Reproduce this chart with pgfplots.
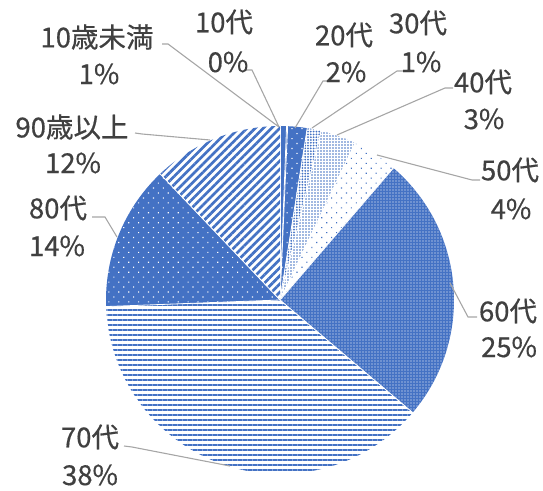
\documentclass[border=0pt]{standalone}
\usepackage{fontspec}
\setmainfont{Noto Sans CJK JP}
\newfontfamily\labfont{Noto Sans CJK JP}[FakeBold=0.5]
\usepackage{pgfplots}
\usepackage{pgfplotstable}
\pgfplotsset{compat=1.18}
\usetikzlibrary{patterns,patterns.meta}
\definecolor{myblue}{RGB}{68,114,196}
\definecolor{txt}{RGB}{64,64,64}
\definecolor{lead}{RGB}{166,166,166}

\pgfplotstableread{
group value
u10 0.6
10s 0.1
20s 1.8
30s 1.3
40s 3.3
50s 4.2
60s 24.9
70s 38.2
80s 13.5
90p 12.1
}\piedata

\tikzset{
 s0/.style={fill=myblue},
 s1/.style={fill=myblue},
 s2/.style={fill=myblue, postaction={pattern={Dots[distance=7pt, angle=45, radius=0.8pt]}, pattern color=white}},
 s3/.style={fill=white, postaction={pattern={Dots[distance=2.8pt, radius=1.0pt]}, pattern color=myblue}},
 s4/.style={fill=white, postaction={pattern={Dots[distance=3pt, radius=0.8pt]}, pattern color=myblue}},
 s5/.style={fill=white, postaction={pattern={Dots[distance=7pt, angle=45, radius=0.8pt]}, pattern color=myblue}},
 s6/.style={fill=myblue, postaction={pattern={Dots[distance=3pt, radius=0.65pt]}, pattern color=white}},
 s7/.style={fill=white, postaction={pattern={Lines[angle=0, distance=5pt, line width=1.3pt]}, pattern color=myblue}},
 s8/.style={fill=myblue, postaction={pattern={Dots[distance=7pt, angle=45, radius=0.8pt]}, pattern color=white}},
 s9/.style={fill=white, postaction={pattern={Lines[angle=45, distance=5.8pt, line width=2.7pt]}, pattern color=myblue}},
}

\begin{document}
\begin{tikzpicture}
\useasboundingbox (0,0) rectangle (543pt,490pt);
\begin{axis}[
  at={(280pt,190pt)}, anchor=origin,
  scale only axis, width=348pt, height=348pt,
  xmin=-1, xmax=1, ymin=-1, ymax=1,
  hide axis, clip=false,
]
\addplot[draw=none] coordinates {(0,0)};
\pgfplotsextra{
  \gdef\cum{0}
  \foreach \i in {0,...,9}{
    \pgfplotstablegetelem{\i}{value}\of\piedata
    \let\v\pgfplotsretval
    \pgfmathsetmacro\sa{90-3.6*\cum}
    \pgfmathsetmacro\sb{90-3.6*(\cum+\v)}
    \fill[s\i] (axis cs:0,0) -- ++(\sa:174pt) arc[start angle=\sa, end angle=\sb, radius=174pt] -- cycle;
    \draw[white, line width=0.8pt] (axis cs:0,0) -- ++(\sa:174pt);
    \pgfmathsetmacro\newcum{\cum+\v}\global\let\cum\newcum
  }
}
\end{axis}
\begin{scope}[x=1pt, y=-1pt, yshift=490pt, font=\labfont\fontsize{27.5}{31}\selectfont, text=txt, inner sep=0pt]
  % leader lines
  \draw[lead, line width=1.1pt] (162,44) -- (168,44) -- (279,127);
  \draw[lead, line width=1.1pt] (245,70) -- (252,70) -- (279,127);
  \draw[lead, line width=1.1pt] (330,81) -- (323,81) -- (295,128);
  \draw[lead, line width=1.1pt] (404,71) -- (397,71) -- (312,128);
  \draw[lead, line width=1.1pt] (453,88) -- (445,88) -- (337,135);
  \draw[lead, line width=1.1pt] (480,180) -- (472,180) -- (377,155);
  \draw[lead, line width=1.1pt] (477,317) -- (468,317) -- (450,283);
  \draw[lead, line width=1.1pt] (124,446) -- (132,447) -- (230,466);
  \draw[lead, line width=1.1pt] (92,217) -- (105,217) -- (117,237);
  \draw[lead, line width=1.1pt] (135,133) -- (142,134) -- (210,140);
  % labels
  \node at (97,37) {10歳未満};  \node at (99,74) {1\%};
  \node at (224,22) {10代};     \node at (228,62) {0\%};
  \node at (344,35) {20代};     \node at (346,72) {2\%};
  \node at (418,23) {30代};     \node at (421,62) {1\%};
  \node at (483,82) {40代};     \node at (484,119) {3\%};
  \node at (510,170) {50代};    \node at (511,209) {4\%};
  \node at (508,311) {60代};    \node at (509,347) {25\%};
  \node at (90,437) {70代};     \node at (90,475) {38\%};
  \node at (58,208) {80代};     \node at (57,246) {14\%};
  \node at (72,127) {90歳以上}; \node at (73,163) {12\%};
\end{scope}
\end{tikzpicture}
\end{document}
